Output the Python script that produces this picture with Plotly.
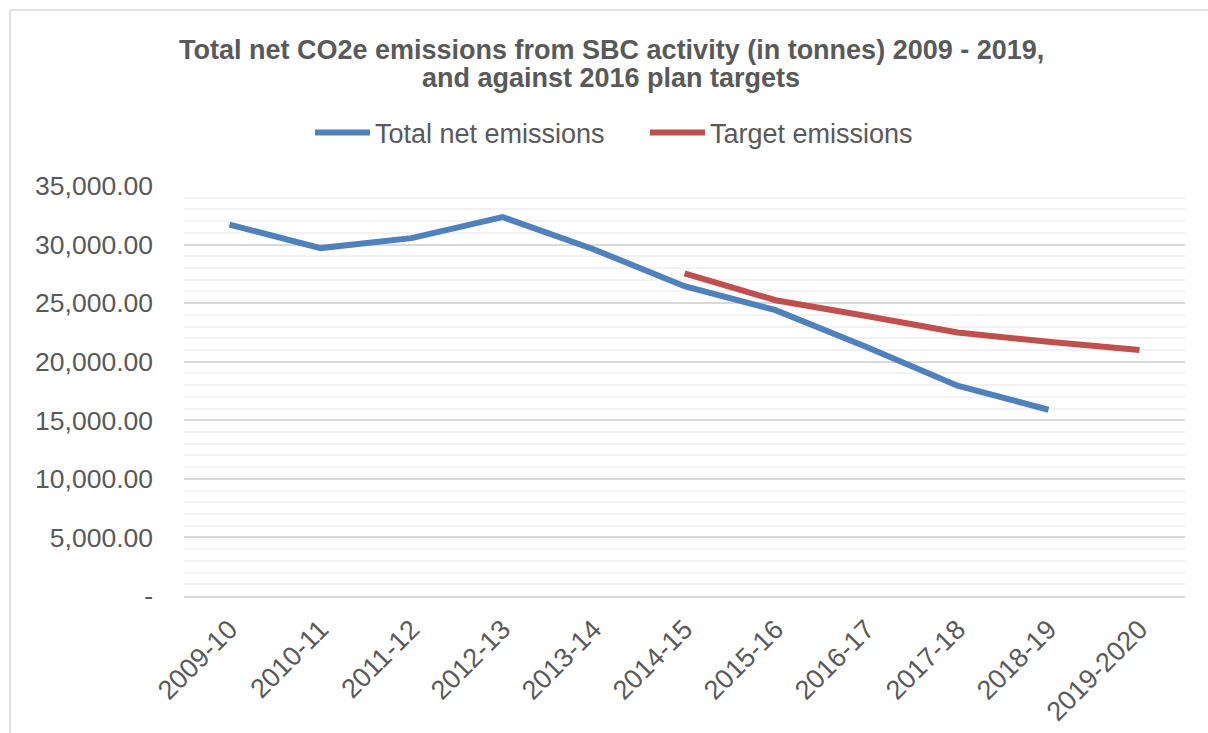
import plotly.graph_objects as go

categories = ["2009-10", "2010-11", "2011-12", "2012-13", "2013-14", "2014-15",
              "2015-16", "2016-17", "2017-18", "2018-19", "2019-2020"]
total_net = [31700, 29700, 30550, 32350, 29600, 26450, 24400, 21250, 17950, 15900, None]
target = [None, None, None, None, None, 27550, 25250, 23900, 22500, 21700, 21000]
ytick_vals = [0, 5000, 10000, 15000, 20000, 25000, 30000, 35000]
ytick_text = ["-", "5,000.00", "10,000.00", "15,000.00", "20,000.00", "25,000.00",
              "30,000.00", "35,000.00"]
title_lines = ["Total net CO2e emissions from SBC activity (in tonnes) 2009 - 2019,",
               "and against 2016 plan targets"]

W, H = 1208, 733
L, R, T, B = 184, 1185, 186, 596
TXT = "#595959"
FONT = "Liberation Sans, Arial, sans-serif"

fig = go.Figure()
fig.add_trace(go.Scatter(x=categories, y=total_net, mode="lines", name="Total net emissions",
                         line=dict(color="#4F81BD", width=6), legend="legend"))
fig.add_trace(go.Scatter(x=categories, y=target, mode="lines", name="Target emissions",
                         line=dict(color="#C0504D", width=6), legend="legend2"))


def px_x(p):
    return (p - L) / (R - L)


def px_y(p):
    return (B - p) / (B - T)


shapes = [
    dict(type="line", xref="paper", yref="paper", x0=px_x(10), x1=px_x(1210), y0=px_y(10), y1=px_y(10),
         line=dict(color="#D9D9D9", width=1.5)),
    dict(type="line", xref="paper", yref="paper", x0=px_x(10), x1=px_x(10), y0=px_y(10), y1=px_y(735),
         line=dict(color="#D9D9D9", width=1.5)),
]

annotations = [
    dict(text="<b>%s</b>" % title_lines[0], xref="paper", yref="paper", x=px_x(611), y=px_y(50),
         xanchor="center", yanchor="middle", showarrow=False, font=dict(size=27, color=TXT, family=FONT)),
    dict(text="<b>%s</b>" % title_lines[1], xref="paper", yref="paper", x=px_x(611), y=px_y(78),
         xanchor="center", yanchor="middle", showarrow=False, font=dict(size=27, color=TXT, family=FONT)),
]

legend_common = dict(orientation="h", xref="container", xanchor="left", yref="container",
                     yanchor="middle", y=1 - 133 / H, font=dict(size=27, color=TXT, family=FONT),
                     itemwidth=55, bgcolor="rgba(0,0,0,0)")

fig.update_layout(
    width=W, height=H,
    margin=dict(l=L, r=W - R, t=T, b=H - B, autoexpand=False),
    paper_bgcolor="white", plot_bgcolor="white",
    font=dict(family=FONT, color=TXT, size=26),
    legend=dict(x=310 / W, **legend_common),
    legend2=dict(x=645 / W, **legend_common),
    xaxis=dict(type="category", range=[-0.5, 10.5], showgrid=False, showline=True,
               linecolor="#D9D9D9", linewidth=1.5, tickangle=-45, ticks="",
               ticklabelstandoff=5,
               tickfont=dict(size=27, color=TXT), zeroline=False),
    yaxis=dict(range=[0, 35000], tickvals=ytick_vals, ticktext=ytick_text,
               showgrid=True, gridcolor="#D9D9D9", gridwidth=1.5, zeroline=False,
               showline=False, ticks="", ticklabelstandoff=30,
               tickfont=dict(size=26.5, color=TXT),
               minor=dict(dtick=1000, showgrid=True, gridcolor="#F2F2F2", gridwidth=1.5)),
    shapes=shapes,
    annotations=annotations,
    showlegend=True,
)

fig.write_html("out.html", config={"displayModeBar": False},
               post_script="document.body.style.margin='0';document.body.style.overflow='hidden';")
